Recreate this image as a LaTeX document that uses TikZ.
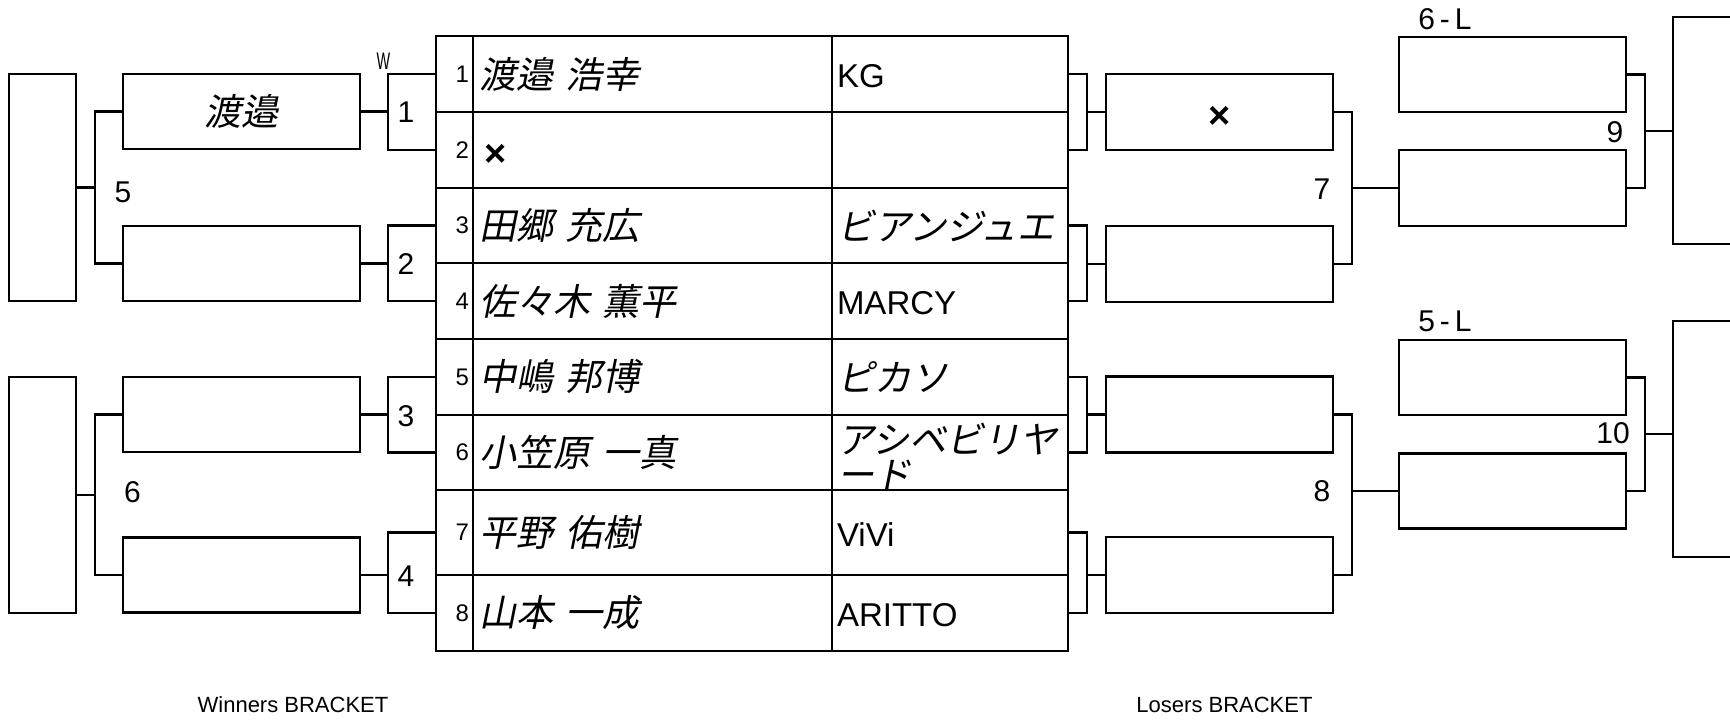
\documentclass[tikz,border=0pt]{standalone}
\usepackage{fontspec}
\setmainfont{Liberation Sans}
\newfontfamily\jpfont[FakeSlant=0.2,WordSpace=1.5]{Noto Sans CJK JP}
\newcommand\setfs[1]{\fontsize{#1}{#1}\selectfont}
\tikzset{
  frame/.style={draw, line width=2.4pt, inner sep=0pt, rectangle},
  bwin/.style={frame, minimum width=237pt, minimum height=75pt},
  blos/.style={frame, minimum width=227pt, minimum height=76pt},
  bwbig/.style={frame, minimum width=67pt},
  brbig/.style={frame, minimum width=87pt},
  numcell/.style={frame, minimum width=37pt},
  namecell/.style={frame, minimum width=359pt},
  teamcell/.style={frame, minimum width=236pt},
  wire/.style={draw, line width=2.4pt},
  jptxt/.style={font=\jpfont\setfs{37}, anchor=west, inner sep=0pt},
  latxt/.style={font=\setfs{33}, anchor=west, inner sep=0pt},
  numtxt/.style={font=\setfs{24}, anchor=east, inner sep=0pt},
  lbl/.style={font=\setfs{30}, inner sep=0pt},
  xmark/.style={font=\bfseries\setfs{38}, inner sep=0pt},
  foot/.style={font=\setfs{22}, inner sep=0pt}
}
\begin{document}
\begin{tikzpicture}[x=1pt,y=-1pt]
\useasboundingbox (0,0) rectangle (1730,720);
\clip (0,0) rectangle (1730,720);

% ---------- central table ----------
\foreach \i/\t/\b in {1/36/112, 2/112/188, 3/188/263, 4/263/339, 5/339/415, 6/415/490, 7/490/575, 8/575/651} {
  \node[numcell, minimum height={\b-\t}] (n\i) at (454.5,{(\t+\b)/2}) {};
  \node[namecell, minimum height={\b-\t}] (m\i) at (652.5,{(\t+\b)/2}) {};
  \node[teamcell, minimum height={\b-\t}] (t\i) at (950,{(\t+\b)/2}) {};
  \node[numtxt] (nt\i) at ([xshift=-5pt]n\i.east) {\i};
}
% names
\node[jptxt] (nm1) at ([xshift=7pt]m1.west) {渡邉 浩幸};
\node[xmark] (nm2) at ([xshift=24pt,yshift=-5pt]m2.west) {×};
\node[jptxt] (nm3) at ([xshift=7pt]m3.west) {田郷 充広};
\node[jptxt] (nm4) at ([xshift=7pt]m4.west) {佐々木 薫平};
\node[jptxt] (nm5) at ([xshift=7pt]m5.west) {中嶋 邦博};
\node[jptxt] (nm6) at ([xshift=7pt]m6.west) {小笠原 一真};
\node[jptxt] (nm7) at ([xshift=7pt]m7.west) {平野 佑樹};
\node[jptxt] (nm8) at ([xshift=7pt]m8.west) {山本 一成};
% teams
\node[latxt] (tm1) at ([xshift=6pt,yshift=-2pt]t1.west) {KG};
\node[jptxt] (tm3) at ([xshift=6pt]t3.west) {ビアンジュエ};
\node[latxt] (tm4) at ([xshift=6pt,yshift=-2pt]t4.west) {MARCY};
\node[jptxt] (tm5) at ([xshift=6pt]t5.west) {ピカソ};
\begin{scope}
  \clip (t6.north west) rectangle (t6.south east);
  \node[jptxt, anchor=north west, align=left, font=\jpfont\fontsize{37}{35}\selectfont] (tm6) at ([xshift=6pt,yshift=-9pt]t6.north west) {アシベビリヤ\\ード};
\end{scope}
\node[latxt] (tm7) at ([xshift=6pt,yshift=-2pt]t7.west) {ViVi};
\node[latxt] (tm8) at ([xshift=6pt,yshift=-2pt]t8.west) {ARITTO};

% ---------- winners bracket ----------
\node[bwbig, minimum height=227pt] (bw1) at (42.5,187.5) {};
\node[bwbig, minimum height=236pt] (bw2) at (42.5,495) {};
\node[bwin] (wa) at (241.5,111.5) {\jpfont\setfs{37}渡邉};
\node[bwin] (wb) at (241.5,263.5) {};
\node[bwin] (wc) at (241.5,414.5) {};
\node[bwin] (wd) at (241.5,575) {};

\coordinate (j5) at (95,187.5);
\coordinate (j6) at (95,495);
\draw[wire] (wa.west) -| (j5) |- (wb.west);
\draw[wire] (bw1.east) -- (j5);
\draw[wire] (wc.west) -| (j6) |- (wd.west);
\draw[wire] (bw2.east) -- (j6);

\coordinate (c1) at (388,111.5);
\coordinate (c2) at (388,263.5);
\coordinate (c3) at (388,414.5);
\coordinate (c4) at (388,575);
\draw[wire] (n1.west) -| (c1) |- (n2.west);
\draw[wire] (n3.west) -| (c2) |- (n4.west);
\draw[wire] (n5.west) -| (c3) |- (n6.west);
\draw[wire] (n7.west) -| (c4) |- (n8.west);
\draw[wire] (wa.east) -- (c1);
\draw[wire] (wb.east) -- (c2);
\draw[wire] (wc.east) -- (c3);
\draw[wire] (wd.east) -- (c4);

\node[lbl] (k1) at (406,112) {1};
\node[lbl] (k2) at (406,264) {2};
\node[lbl] (k3) at (406,416) {3};
\node[lbl] (k4) at (406,576) {4};
\node[font=\setfs{24}, inner sep=0pt, xscale=0.6] (wl) at (383.5,61) {W};
\node[lbl] (k5) at (123,192) {5};
\node[lbl] (k6) at (132.5,492.5) {6};

% ---------- losers bracket ----------
\node[blos] (la) at (1219.5,112) {};
\node[xmark] (lx) at ([yshift=-5pt]la.center) {×};
\node[blos] (lb) at (1219.5,264) {};
\node[blos] (lc) at (1219.5,414.5) {};
\node[blos] (ld) at (1219.5,575) {};

\coordinate (d1) at (1087,112);
\coordinate (d2) at (1087,264);
\coordinate (d3) at (1087,414.5);
\coordinate (d4) at (1087,575);
\draw[wire] (t1.east) -| (d1) |- (t2.east);
\draw[wire] (t3.east) -| (d2) |- (t4.east);
\draw[wire] (t5.east) -| (d3) |- (t6.east);
\draw[wire] (t7.east) -| (d4) |- (t8.east);
\draw[wire] (d1) -- (la.west);
\draw[wire] (d2) -- (lb.west);
\draw[wire] (d3) -- (lc.west);
\draw[wire] (d4) -- (ld.west);

\node[blos, minimum height=75pt] (lr1) at (1512.5,74.5) {};
\node[blos, minimum height=76pt] (lr2) at (1512.5,188) {};
\node[blos, minimum height=75pt] (lr3) at (1512.5,377.5) {};
\node[blos, minimum height=75pt] (lr4) at (1512.5,491) {};

\coordinate (j7) at (1352,188);
\coordinate (j8) at (1352,491);
\draw[wire] (la.east) -| (j7) |- (lb.east);
\draw[wire] (j7) -- (lr2.west);
\draw[wire] (lc.east) -| (j8) |- (ld.east);
\draw[wire] (j8) -- (lr4.west);

\node[brbig, minimum height=227pt] (br1) at (1716.5,130.5) {};
\node[brbig, minimum height=236pt] (br2) at (1716.5,439) {};
\coordinate (j9) at (1645,131.25);
\coordinate (j10) at (1645,434);
\draw[wire] (lr1.east) -| (j9) |- (lr2.east);
\draw[wire] (j9) -- (j9 -| br1.west);
\draw[wire] (lr3.east) -| (j10) |- (lr4.east);
\draw[wire] (j10) -- (j10 -| br2.west);

\node[lbl] (k7) at (1322,189) {7};
\node[lbl] (k8) at (1322,491) {8};
\node[lbl] (k9) at (1615,132.5) {9};
\node[lbl] (k10) at (1613,433) {10};
\node[lbl] (k6l) at (1445,19.5) {6\,-\,L};
\node[lbl] (k5l) at (1445,321.5) {5\,-\,L};

% ---------- footers ----------
\node[foot] (fw) at (293,705) {Winners BRACKET};
\node[foot] (fl) at (1224.5,705) {Losers BRACKET};
\end{tikzpicture}
\end{document}
